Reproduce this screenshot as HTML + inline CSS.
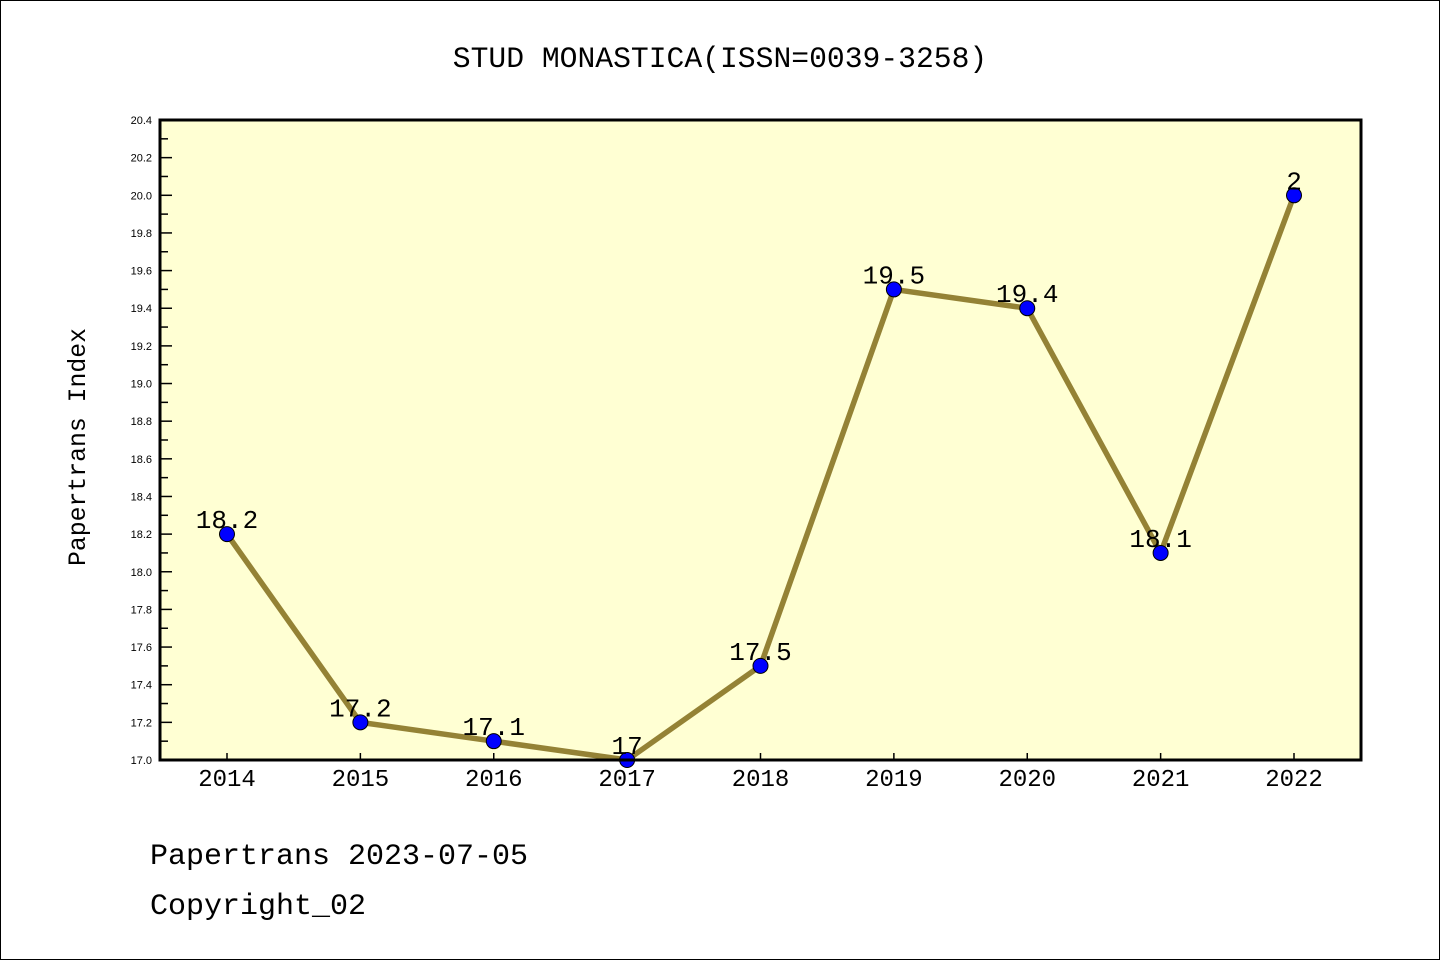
<!DOCTYPE html>
<html><head><meta charset="utf-8"><style>
html,body{margin:0;padding:0;background:#fff;}
svg{display:block;font-family:"Liberation Mono",monospace;}
</style></head><body>
<svg id="chart" width="1440" height="960" viewBox="0 0 1440 960">
<rect x="0.5" y="0.5" width="1439" height="959" fill="#fff" stroke="#000" stroke-width="1"/>
<text x="720" y="67" font-size="29.7" text-anchor="middle">STUD MONASTICA(ISSN=0039-3258)</text>
<rect x="160" y="120" width="1201" height="640" fill="#ffffd3"/>
<g id="grid"></g>
<g id="series"></g>
<rect x="160" y="120" width="1201" height="640" fill="none" stroke="#000" stroke-width="3"/>
<text transform="translate(85,447) rotate(-90)" font-size="24.8" text-anchor="middle">Papertrans Index</text>
<text x="150" y="864" font-size="30">Papertrans 2023-07-05</text>
<text x="150" y="914" font-size="30">Copyright_02</text>
</svg>
<script>
const years = ["2014","2015","2016","2017","2018","2019","2020","2021","2022"];
const values = [18.2,17.2,17.1,17.0,17.5,19.5,19.4,18.1,20.0];
const valueLabels = ["18.2","17.2","17.1","17","17.5","19.5","19.4","18.1","2"];
const yTicks = ["17.0","17.2","17.4","17.6","17.8","18.0","18.2","18.4","18.6","18.8","19.0","19.2","19.4","19.6","19.8","20.0","20.2","20.4"];
const yMin = 17.0, yMax = 20.4;
const NS = "http://www.w3.org/2000/svg";
function xs(i){return 227 + i*(1294-227)/(years.length-1);}
function ys(v){return 760 - (v-yMin)/(yMax-yMin)*640;}
function mk(tag, attrs, parent){const e=document.createElementNS(NS,tag);for(const k in attrs)e.setAttribute(k,attrs[k]);parent.appendChild(e);return e;}
const grid=document.getElementById('grid'), series=document.getElementById('series');
for(let k=0;k<yTicks.length;k++){
  const v=parseFloat(yTicks[k]), y=ys(v);
  const t=mk('line',{x1:160,x2:172,y1:y,y2:y,stroke:'#000','stroke-width':1.5},grid);
  
  
  const l=mk('text',{x:152,y:y+4,'font-size':11,'text-anchor':'end','font-family':'Liberation Sans, sans-serif'},grid);
  l.textContent=yTicks[k];
  
  
  if(k<yTicks.length-1){
    const ym=ys(v+0.1);
    const m=mk('line',{x1:160,x2:168,y1:ym,y2:ym,stroke:'#000','stroke-width':1.5},grid);
    
    
  }
}
years.forEach((yr,i)=>{
  const x=xs(i);
  const t=mk('line',{x1:x,x2:x,y1:760,y2:753,stroke:'#000','stroke-width':1.5},grid);
  
  
  const l=mk('text',{x:x,y:786,'font-size':24,'text-anchor':'middle'},grid);
  l.textContent=yr;
  
  
});
const pts=values.map((v,i)=>xs(i)+','+ys(v)).join(' ');
const line=mk('polyline',{points:pts,fill:'none',stroke:'#948235','stroke-width':5.5,'stroke-linejoin':'round'},series);


values.forEach((v,i)=>{
  const c=mk('circle',{cx:xs(i),cy:ys(v),r:7.5,fill:'#0000ff',stroke:'#000','stroke-width':1},series);
  
  
  const l=mk('text',{x:xs(i),y:ys(v)-6,'font-size':26,'text-anchor':'middle'},series);
  l.textContent=valueLabels[i];
  
  
});
</script>
</body></html>
